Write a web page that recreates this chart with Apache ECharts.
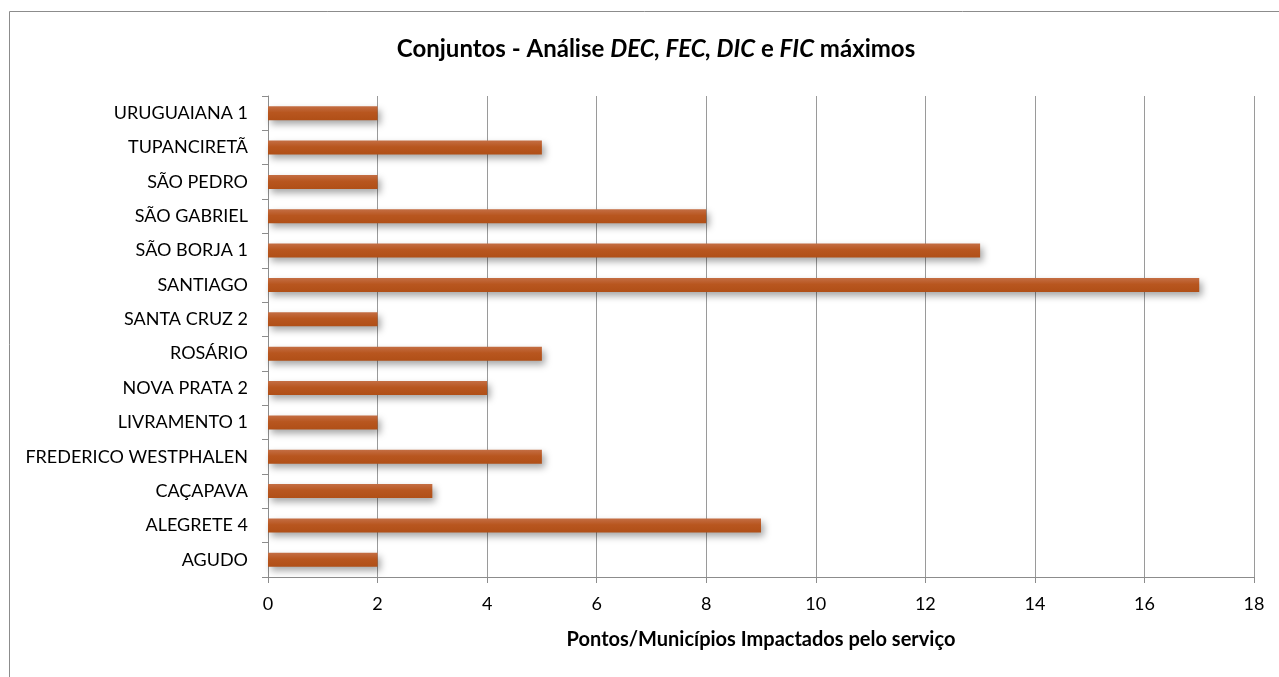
<!DOCTYPE html>
<html>
<head>
<meta charset="utf-8">
<script src="https://cdn.jsdelivr.net/npm/echarts@6/dist/echarts.min.js"></script>
<style>
  html, body { margin: 0; padding: 0; background: #fff; }
  #chart { width: 1279px; height: 677px; }
</style>
</head>
<body>
<div id="chart"></div>
<script>
// categorias (de baixo para cima, como no eixo)
const conjuntos = [
    'AGUDO', 'ALEGRETE 4', 'CAÇAPAVA', 'FREDERICO WESTPHALEN', 'LIVRAMENTO 1',
    'NOVA PRATA 2', 'ROSÁRIO', 'SANTA CRUZ 2', 'SANTIAGO', 'SÃO BORJA 1',
    'SÃO GABRIEL', 'SÃO PEDRO', 'TUPANCIRETÃ', 'URUGUAIANA 1'
];
const pontosImpactados = [2, 9, 3, 5, 2, 4, 5, 2, 17, 13, 8, 2, 5, 2];

const fonte = 'Lato, "Open Sans", sans-serif';

const chart = echarts.init(document.getElementById('chart'));

chart.setOption({
    animation: false,
    graphic: [{
        type: 'rect',
        shape: { x: 9.5, y: 11.5, width: 1300, height: 700 },
        style: { fill: 'none', stroke: '#8c8c8c', lineWidth: 1 },
        z: -1
    }],
    title: {
        text: '{b|Conjuntos - Análise }{i|DEC, FEC, DIC}{b| e }{i|FIC}{b| máximos}',
        left: 651,
        textAlign: 'center',
        top: 32,
        textStyle: {
            rich: {
                b: { fontFamily: fonte, fontSize: 24, fontWeight: 'bold', color: '#000' },
                i: { fontFamily: fonte, fontSize: 24, fontWeight: 'bold', fontStyle: 'italic', color: '#000' }
            }
        }
    },
    grid: { left: 268, right: 25, top: 96, bottom: 100 },
    xAxis: {
        type: 'value',
        min: 0,
        max: 18,
        interval: 2,
        name: 'Pontos/Municípios Impactados pelo serviço',
        nameLocation: 'middle',
        nameGap: 53,
        nameTextStyle: { fontFamily: fonte, fontSize: 20, fontWeight: 'bold', color: '#000' },
        axisLine: { show: true, lineStyle: { color: '#8c8c8c' } },
        axisTick: { show: true, length: 6, lineStyle: { color: '#8c8c8c' } },
        axisLabel: { fontFamily: fonte, fontSize: 18, color: '#000', margin: 18 },
        splitLine: { show: true, lineStyle: { color: '#9a9a9a' } }
    },
    yAxis: {
        type: 'category',
        data: conjuntos,
        axisLine: { show: true, lineStyle: { color: '#8c8c8c' } },
        axisTick: { show: true, length: 6, lineStyle: { color: '#8c8c8c' } },
        axisLabel: { fontFamily: fonte, fontSize: 18, color: '#000', margin: 20 },
        splitLine: { show: false }
    },
    series: [{
        type: 'bar',
        data: pontosImpactados,
        barWidth: 14,
        itemStyle: {
            color: new echarts.graphic.LinearGradient(0, 0, 0, 1, [
                { offset: 0, color: '#c46e44' },
                { offset: 0.45, color: '#b8561f' },
                { offset: 1, color: '#b04f17' }
            ]),
            shadowColor: 'rgba(0,0,0,0.35)',
            shadowBlur: 7,
            shadowOffsetX: 3,
            shadowOffsetY: 4
        }
    }]
});
</script>
</body>
</html>
